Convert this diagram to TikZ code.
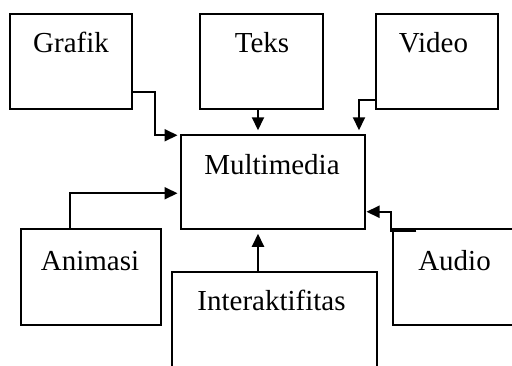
\documentclass[tikz,border=0pt]{standalone}
\usepackage{fontspec}
\setmainfont{Liberation Serif}
\usetikzlibrary{arrows.meta}
\begin{document}
\begin{tikzpicture}[x=1pt, y=-1pt,
  box/.style={shape=rectangle, draw=black, line width=2pt, inner sep=0pt, outer sep=0pt},
  lbl/.style={anchor=base, inner sep=0pt, font=\fontsize{29}{34}\selectfont},
  arr/.style={line width=2pt, -{Triangle[length=13pt,width=12pt]}}]
\useasboundingbox (0,0) rectangle (512,365);
\clip (0,0) rectangle (512,365);
% boxes
\node[box, minimum width=122pt, minimum height=95pt] (grafik) at (71,61.5) {};
\node[box, minimum width=123pt, minimum height=95pt] (teks) at (261.5,61.5) {};
\node[box, minimum width=122pt, minimum height=95pt] (video) at (437,61.5) {};
\node[box, minimum width=184pt, minimum height=93.5pt] (multimedia) at (272.5,182) {};
\node[box, minimum width=140pt, minimum height=96.5pt] (animasi) at (91,276.75) {};
\node[box, minimum width=205pt, minimum height=96pt] (interaktif) at (274,320.3) {};
\node[box, minimum width=140pt, minimum height=96.5pt] (audio) at (463.3,276.75) {};
% labels
\node[lbl] (grafikLbl) at (71,52) {Grafik};
\node[lbl] (teksLbl) at (262,52) {Teks};
\node[lbl] (videoLbl) at (433.5,52) {Video};
\node[lbl] (multimediaLbl) at (272,174) {Multimedia};
\node[lbl] (animasiLbl) at (90,270) {Animasi};
\node[lbl] (interaktifLbl) at (271.5,310.7) {Interaktifitas};
\node[lbl] (audioLbl) at (454.5,270.7) {Audio};
% connectors
\draw[arr] ([yshift=17pt]grafik.south east) -| ([xshift=-26pt]multimedia.north west) -- ([xshift=-3pt]multimedia.north west);
\draw[arr, shorten >=5pt] ([xshift=-3.5pt]teks.south) -- ([xshift=-3.5pt]teks.south |- multimedia.north);
\draw[arr, shorten >=5pt] ([yshift=9pt]video.south west) -| ([xshift=-5.5pt]multimedia.north east);
\draw[arr, shorten >=3pt] ([xshift=49pt]animasi.north west) |- ([yshift=35.5pt]multimedia.south west);
\draw[arr, shorten >=5pt] ([xshift=-16pt]interaktif.north) -- ([xshift=-16pt]interaktif.north |- multimedia.south);
\draw[arr, shorten >=2pt] ([xshift=23pt,yshift=-2pt]audio.north west) -- ([xshift=-2.5pt,yshift=-2pt]audio.north west) |- ([yshift=17pt]multimedia.south east);
\end{tikzpicture}
\end{document}
